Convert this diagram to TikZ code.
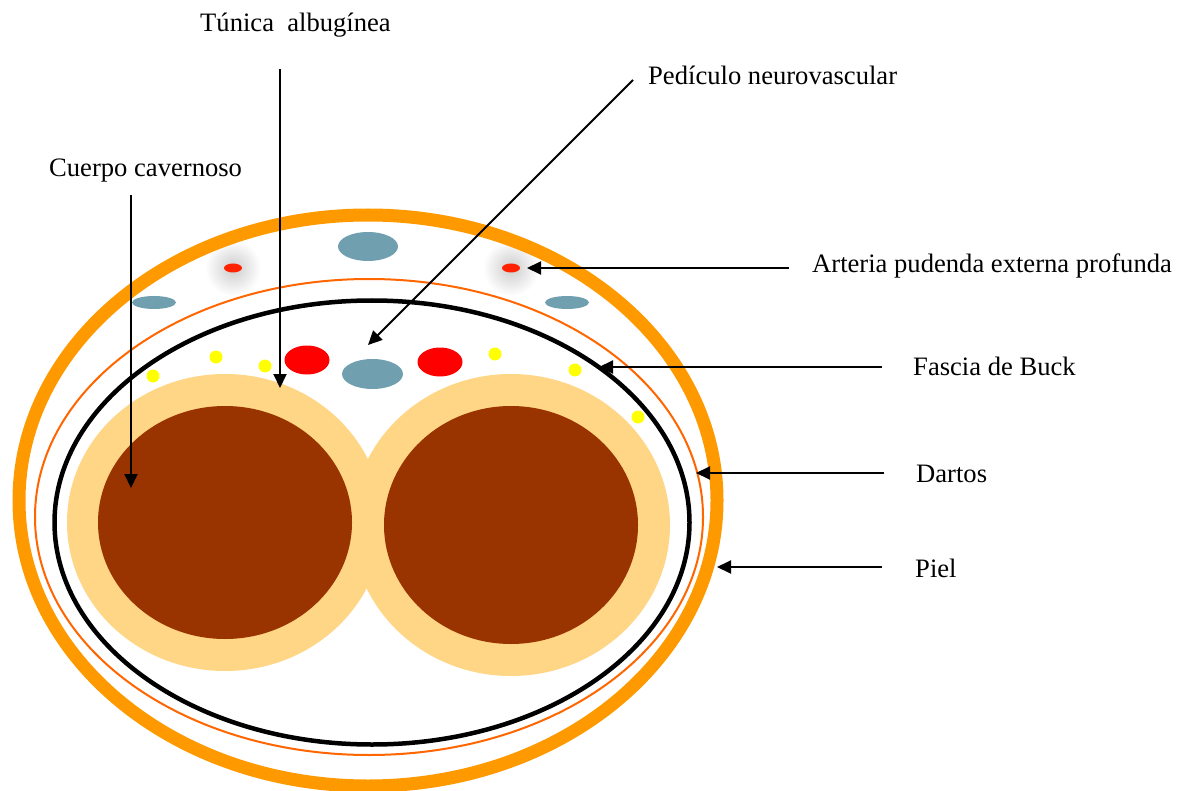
\documentclass[tikz,border=0pt]{standalone}
\usepackage{fontspec}
\setmainfont{Liberation Serif}
\usetikzlibrary{arrows.meta}
\definecolor{skin}{HTML}{FF9900}
\definecolor{dartos}{HTML}{FF6600}
\definecolor{tunica}{HTML}{FFD685}
\definecolor{cavern}{HTML}{993300}
\definecolor{vein}{HTML}{70A0B0}
\definecolor{artery}{HTML}{FF0000}
\definecolor{smallart}{HTML}{FF2200}
\definecolor{nerve}{HTML}{FFFF00}
\tikzset{
  lbl/.style={anchor=base west, inner sep=0pt, font=\fontsize{26.6}{30}\selectfont},
  pointer/.style={line width=2pt, -{Triangle[length=14pt,width=13pt]}},
}
\begin{document}
\begin{tikzpicture}[x=1pt,y=-1pt]
\fill[white] (0,0) rectangle (1185,791);
\useasboundingbox (0,0) rectangle (1185,791);

% soft halo around the superficial arteries
\foreach \p in {(233,268),(511,268)}
  \shade[inner color=black!20, outer color=white] \p circle (28pt);

% layers of the shaft
\draw[skin, line width=13pt] (368,500.5) ellipse [x radius=349pt, y radius=285.5pt];
\draw[dartos, line width=2pt] (369,517) ellipse [x radius=334pt, y radius=238pt];
\draw[black, line width=4.5pt] (372,522.5) ellipse [x radius=317.5pt, y radius=222pt];

% corpora cavernosa with tunica albuginea
\fill[tunica] (225,522.5) ellipse [x radius=158pt, y radius=148.5pt];
\fill[tunica] (511,525) ellipse [x radius=159pt, y radius=151pt];
\fill[cavern] (225,522.5) ellipse [x radius=127pt, y radius=116.5pt];
\fill[cavern] (511,525) ellipse [x radius=127pt, y radius=119pt];

% veins
\fill[vein] (368,246.5) ellipse [x radius=30pt, y radius=14.5pt];
\fill[vein] (154,302.5) ellipse [x radius=22pt, y radius=6.5pt];
\fill[vein] (567,302.5) ellipse [x radius=22pt, y radius=6.5pt];
\fill[vein] (372.5,374) ellipse [x radius=30.5pt, y radius=15pt];

% arteries
\fill[artery] (307,360) ellipse [x radius=22.5pt, y radius=14.5pt];
\fill[artery] (440,362) ellipse [x radius=22.5pt, y radius=14.5pt];
\fill[smallart] (233,268) ellipse [x radius=9pt, y radius=4.5pt];
\fill[smallart] (511,268) ellipse [x radius=9pt, y radius=4.5pt];

% nerves
\foreach \p in {(153,376),(216,357),(265,366),(495,354),(575,370),(638,417)}
  \fill[nerve] \p circle (6.5pt);

% labels
\node[lbl] (tun) at (200,32) {Túnica\ \ albugínea};
\node[lbl] (ped) at (648,85) {Pedículo neurovascular};
\node[lbl] (cav) at (49,177) {Cuerpo cavernoso};
\node[lbl] (art) at (812,273) {Arteria pudenda externa profunda};
\node[lbl] (buck) at (913,375) {Fascia de Buck};
\node[lbl] (dar) at (916,482) {Dartos};
\node[lbl] (piel) at (915,577) {Piel};

% pointer ends
\coordinate (tunS) at (280,69);   \coordinate (tunT) at (280,388);
\coordinate (pedS) at (633,80);   \coordinate (pedT) at (368,345);
\coordinate (cavS) at (131,195);  \coordinate (cavT) at (131,488);
\coordinate (artS) at (789,268);  \coordinate (artT) at (527,268);
\coordinate (buckS) at (882,367); \coordinate (buckT) at (599,367);
\coordinate (darS) at (884,473);  \coordinate (darT) at (696,473);
\coordinate (pielS) at (882,567); \coordinate (pielT) at (717,567);

\draw[pointer] (tunS) -- (tunT);
\draw[pointer] (pedS) -- (pedT);
\draw[pointer] (cavS) -- (cavT);
\draw[pointer] (artS) -- (artT);
\draw[pointer] (buckS) -- (buckT);
\draw[pointer] (darS) -- (darT);
\draw[pointer] (pielS) -- (pielT);
\end{tikzpicture}
\end{document}
